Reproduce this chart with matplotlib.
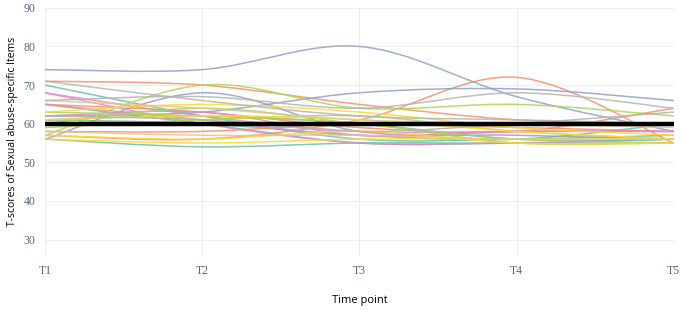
import matplotlib.pyplot as plt
from matplotlib.path import Path
from matplotlib.patches import PathPatch

# time points and per-participant T-scores, grouped by line colour
time_points = ["T1", "T2", "T3", "T4", "T5"]
threshold = 60

teal_series = [[70, 62, 56, 56, 57],
               [65, 60, 55, 55, 56],
               [56, 54, 55, 55, 56],
               [61, 60, 57, 56, 60]]
orange_series = [[71, 70, 65, 61, 60],
                 [57, 56, 61, 72, 55],
                 [65, 63, 59, 58, 64],
                 [58, 58, 60, 59, 58]]
blue_series = [[74, 74, 80, 67, 58],
               [56, 68, 58, 57, 56],
               [62, 63, 68, 69, 66],
               [61, 62, 60, 56, 56]]
pink_series = [[68, 62, 58, 58, 58],
               [65, 61, 57, 58, 58],
               [68, 60, 55, 55, 55],
               [62, 63, 57, 58, 58]]
green_series = [[57, 70, 64, 65, 62],
                [63, 62, 60, 55, 55],
                [59, 61, 62, 58, 56],
                [60, 64, 60, 56, 55]]
yellow_series = [[57, 56, 58, 55, 55],
                 [61, 62, 61, 58, 56],
                 [63, 65, 63, 59, 57],
                 [56, 55, 56, 56, 56]]
tan_series = [[58, 57, 57, 56, 56],
              [66, 64, 61, 60, 59]]
gray_series = [[71, 66, 62, 61, 60],
               [66, 67, 64, 68, 64],
               [62, 61, 58, 60, 63]]

groups = [("#66c2a5", teal_series), ("#fc8d62", orange_series),
          ("#8da0cb", blue_series), ("#e78ac3", pink_series),
          ("#a6d854", green_series), ("#ffd92f", yellow_series),
          ("#e5c494", tan_series), ("#b3b3b3", gray_series)]


def spline_path(xs, ys):
    # catmull-rom style bezier through the data points (like plotly's spline shape)
    pts = list(zip(xs, ys))
    verts = [pts[0]]
    codes = [Path.MOVETO]
    n = len(pts)
    for i in range(n - 1):
        p0 = pts[max(i - 1, 0)]
        p1 = pts[i]
        p2 = pts[i + 1]
        p3 = pts[min(i + 2, n - 1)]
        c1 = (p1[0] + (p2[0] - p0[0]) / 6, p1[1] + (p2[1] - p0[1]) / 6)
        c2 = (p2[0] - (p3[0] - p1[0]) / 6, p2[1] - (p3[1] - p1[1]) / 6)
        verts += [c1, c2, p2]
        codes += [Path.CURVE4] * 3
    return Path(verts, codes)


fig = plt.figure(figsize=(6.85, 3.14), dpi=100)
ax = fig.add_axes([0.0657, 0.188, 0.918, 0.787])

x = list(range(len(time_points)))
for color, series in groups:
    for ys in series:
        ax.add_patch(PathPatch(spline_path(x, ys), facecolor="none",
                               edgecolor=color, lw=1.1, alpha=0.85, zorder=2))

ax.plot([x[0], x[-1]], [threshold, threshold], color="black", lw=3.2, zorder=3)

ax.set_xlim(0, 4)
ax.set_ylim(26, 90)
ax.set_yticks([30, 40, 50, 60, 70, 80, 90])
ax.set_xticks(x)
ax.set_xticklabels(time_points)
ax.grid(color="#eeeeee", lw=0.8, zorder=0)
for s in ax.spines.values():
    s.set_visible(False)
ax.tick_params(length=0, pad=7, labelsize=8.5, labelcolor="#506784")
for lab in ax.get_xticklabels() + ax.get_yticklabels():
    lab.set_fontfamily("Liberation Serif")

ax.set_ylabel("T-scores of Sexual abuse-specific Items", fontsize=7.5,
              fontfamily="Open Sans", labelpad=4)
ax.set_xlabel("Time point", fontsize=8, fontfamily="Open Sans", labelpad=13)

fig.savefig("out.png", dpi=100)
